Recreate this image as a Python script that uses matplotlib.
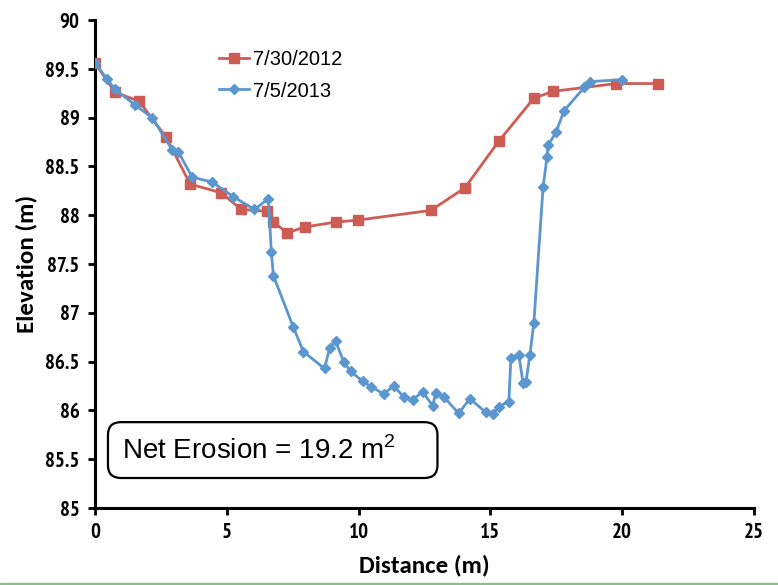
import matplotlib
matplotlib.use("Agg")
import matplotlib.pyplot as plt
from matplotlib.patches import Rectangle, FancyBboxPatch

# survey of 7/30/2012
dist_2012 = [0.0, 0.76, 1.67, 2.70, 3.61, 4.79, 5.55, 6.54, 6.77, 7.30, 7.95,
             9.13, 9.96, 12.74, 14.03, 15.32, 16.65, 17.38, 19.77, 21.37]
elev_2012 = [89.56, 89.26, 89.17, 88.80, 88.32, 88.23, 88.06, 88.04, 87.93, 87.82, 87.88,
             87.93, 87.95, 88.05, 88.28, 88.76, 89.20, 89.27, 89.35, 89.35]

# survey of 7/5/2013
dist_2013 = [0.0, 0.45, 0.76, 1.52, 2.17, 2.93, 3.16, 3.69, 4.45, 5.25, 6.05, 6.58,
             6.69, 6.77, 7.53, 7.91, 8.71, 8.90, 9.13, 9.43, 9.70, 10.15, 10.49,
             10.95, 11.33, 11.71, 12.05, 12.43, 12.81, 12.93, 13.23, 13.80, 14.22,
             14.83, 15.10, 15.32, 15.70, 15.78, 16.08, 16.24, 16.35, 16.50, 16.65,
             17.00, 17.15, 17.19, 17.49, 17.79, 18.56, 18.78, 20.0]
elev_2013 = [89.56, 89.40, 89.29, 89.13, 89.00, 88.67, 88.65, 88.39, 88.34, 88.19, 88.06, 88.17,
             87.62, 87.38, 86.85, 86.60, 86.43, 86.64, 86.71, 86.50, 86.40, 86.30, 86.24,
             86.17, 86.25, 86.14, 86.11, 86.19, 86.05, 86.18, 86.14, 85.97, 86.12,
             85.98, 85.96, 86.04, 86.09, 86.54, 86.57, 86.28, 86.29, 86.57, 86.90,
             88.29, 88.60, 88.72, 88.85, 89.07, 89.31, 89.37, 89.39]

xticks = [0, 5, 10, 15, 20, 25]
yticks = [85, 85.5, 86, 86.5, 87, 87.5, 88, 88.5, 89, 89.5, 90]
ytick_labels = ["85", "85.5", "86", "86.5", "87", "87.5", "88", "88.5", "89", "89.5", "90"]

narrow = ["PT Sans Narrow", "Liberation Sans"]
plain = ["Liberation Sans", "DejaVu Sans"]
label_font = ["Carlito", "Open Sans", "Liberation Sans"]

plt.rcParams["mathtext.fontset"] = "custom"
plt.rcParams["mathtext.rm"] = "Liberation Sans"

fig = plt.figure(figsize=(7.78, 5.85), dpi=100)
ax = fig.add_axes([0.1221, 0.1316, 0.847, 0.834])

ax.plot(dist_2012, elev_2012, color="#CD5C55", lw=2.0, marker="s", ms=7.5,
        label="7/30/2012", zorder=3)
ax.plot(dist_2013, elev_2013, color="#5B96CF", lw=2.0, marker="D", ms=5,
        label="7/5/2013", zorder=4)

ax.set_xlim(0, 25)
ax.set_ylim(85, 90)
ax.set_xticks(xticks)
ax.set_yticks(yticks)
ax.set_yticklabels(ytick_labels)
for s in ["top", "right"]:
    ax.spines[s].set_visible(False)
for s in ["left", "bottom"]:
    ax.spines[s].set_linewidth(2.2)
ax.tick_params(direction="out", length=5, width=2, pad=6)
for lab in ax.get_xticklabels() + ax.get_yticklabels():
    lab.set_family(narrow)
    lab.set_fontweight("bold")
    lab.set_fontsize(15)

ax.set_xlabel("Distance (m)", family=label_font, fontweight="bold", fontsize=18, labelpad=9)
ax.set_ylabel("Elevation (m)", family=label_font, fontweight="bold", fontsize=18, labelpad=6)

leg = ax.legend(loc="upper left", bbox_to_anchor=(0.16, 0.975), frameon=False,
                prop={"family": plain, "size": 14.5}, handlelength=1.5,
                handletextpad=0.2, labelspacing=0.6)

# annotation box
box = FancyBboxPatch((0.0197, 0.0615), 0.5, 0.1145, transform=ax.transAxes,
                     boxstyle="round,pad=0,rounding_size=0.02", fc="white",
                     ec="black", lw=1.6, zorder=5, mutation_aspect=1.3)
ax.add_patch(box)
ax.text(0.041, 0.117, r"Net Erosion = 19.2 m$^{\mathrm{2}}$", transform=ax.transAxes,
        family=plain, fontsize=20, va="center", ha="left", zorder=6)

# thin green strip along the bottom edge
fig.patches.append(Rectangle((0, 0), 1, 0.004, transform=fig.transFigure,
                             color="#8DBF8A", zorder=0))

fig.savefig("out.png", dpi=100)
